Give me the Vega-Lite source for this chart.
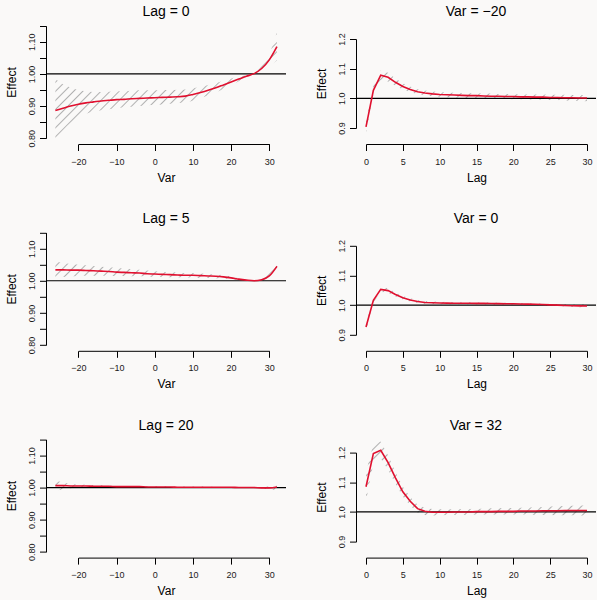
{
"$schema": "https://vega.github.io/schema/vega-lite/v6.json",
"background": "#faf9f8",
"padding": {"left": 5, "top": 5, "right": 0, "bottom": 3},
"columns": 2,
"spacing": {"row": 86.8, "column": 70},
"bounds": "flush",
"datasets": {
"lag0": [
{"x":-26,"fit":0.886,"lo":0.800,"hi":0.984},{"x":-24,"fit":0.893,"lo":0.825,"hi":0.968},{"x":-22,"fit":0.900,"lo":0.848,"hi":0.958},{"x":-20,"fit":0.906,"lo":0.866,"hi":0.950},{"x":-18,"fit":0.910,"lo":0.876,"hi":0.946},{"x":-16,"fit":0.913,"lo":0.882,"hi":0.944},{"x":-14,"fit":0.916,"lo":0.887,"hi":0.944},{"x":-12,"fit":0.918,"lo":0.890,"hi":0.945},{"x":-10,"fit":0.920,"lo":0.893,"hi":0.946},{"x":-8,"fit":0.921,"lo":0.896,"hi":0.947},{"x":-6,"fit":0.923,"lo":0.898,"hi":0.948},{"x":-4,"fit":0.924,"lo":0.900,"hi":0.949},{"x":-2,"fit":0.925,"lo":0.902,"hi":0.949},{"x":0,"fit":0.926,"lo":0.904,"hi":0.949},{"x":2,"fit":0.927,"lo":0.905,"hi":0.950},{"x":4,"fit":0.928,"lo":0.907,"hi":0.950},{"x":6,"fit":0.929,"lo":0.909,"hi":0.951},{"x":8,"fit":0.931,"lo":0.912,"hi":0.952},{"x":10,"fit":0.936,"lo":0.917,"hi":0.955},{"x":12,"fit":0.942,"lo":0.925,"hi":0.960},{"x":14,"fit":0.949,"lo":0.933,"hi":0.966},{"x":16,"fit":0.957,"lo":0.943,"hi":0.972},{"x":18,"fit":0.966,"lo":0.953,"hi":0.979},{"x":20,"fit":0.975,"lo":0.964,"hi":0.986},{"x":22,"fit":0.984,"lo":0.977,"hi":0.991},{"x":24,"fit":0.993,"lo":0.989,"hi":0.997},{"x":26,"fit":1.001,"lo":1.000,"hi":1.002},{"x":28,"fit":1.017,"lo":1.008,"hi":1.026},{"x":30,"fit":1.044,"lo":1.025,"hi":1.063},{"x":32,"fit":1.085,"lo":1.042,"hi":1.130}],
"varm20": [
{"x":0,"fit":0.904,"lo":0.884,"hi":0.925},{"x":1,"fit":1.027,"lo":1.012,"hi":1.042},{"x":2,"fit":1.078,"lo":1.062,"hi":1.094},{"x":3,"fit":1.071,"lo":1.057,"hi":1.086},{"x":4,"fit":1.054,"lo":1.042,"hi":1.067},{"x":5,"fit":1.040,"lo":1.030,"hi":1.051},{"x":6,"fit":1.030,"lo":1.021,"hi":1.040},{"x":7,"fit":1.022,"lo":1.014,"hi":1.031},{"x":8,"fit":1.018,"lo":1.010,"hi":1.026},{"x":9,"fit":1.015,"lo":1.007,"hi":1.023},{"x":10,"fit":1.013,"lo":1.005,"hi":1.021},{"x":11,"fit":1.012,"lo":1.004,"hi":1.020},{"x":12,"fit":1.011,"lo":1.003,"hi":1.019},{"x":13,"fit":1.010,"lo":1.002,"hi":1.018},{"x":14,"fit":1.009,"lo":1.001,"hi":1.017},{"x":15,"fit":1.009,"lo":1.000,"hi":1.017},{"x":16,"fit":1.008,"lo":1.000,"hi":1.016},{"x":17,"fit":1.007,"lo":0.999,"hi":1.016},{"x":18,"fit":1.007,"lo":0.998,"hi":1.015},{"x":19,"fit":1.006,"lo":0.998,"hi":1.015},{"x":20,"fit":1.006,"lo":0.997,"hi":1.014},{"x":21,"fit":1.005,"lo":0.997,"hi":1.014},{"x":22,"fit":1.005,"lo":0.996,"hi":1.013},{"x":23,"fit":1.004,"lo":0.996,"hi":1.013},{"x":24,"fit":1.004,"lo":0.995,"hi":1.013},{"x":25,"fit":1.003,"lo":0.994,"hi":1.012},{"x":26,"fit":1.003,"lo":0.994,"hi":1.012},{"x":27,"fit":1.002,"lo":0.993,"hi":1.012},{"x":28,"fit":1.002,"lo":0.992,"hi":1.011},{"x":29,"fit":1.001,"lo":0.991,"hi":1.011},{"x":30,"fit":1.001,"lo":0.990,"hi":1.011}],
"lag5": [
{"x":-26,"fit":1.034,"lo":1.010,"hi":1.060},{"x":-24,"fit":1.034,"lo":1.012,"hi":1.056},{"x":-22,"fit":1.033,"lo":1.014,"hi":1.052},{"x":-20,"fit":1.033,"lo":1.015,"hi":1.050},{"x":-18,"fit":1.032,"lo":1.016,"hi":1.048},{"x":-16,"fit":1.031,"lo":1.016,"hi":1.046},{"x":-14,"fit":1.030,"lo":1.016,"hi":1.044},{"x":-12,"fit":1.029,"lo":1.016,"hi":1.042},{"x":-10,"fit":1.027,"lo":1.015,"hi":1.040},{"x":-8,"fit":1.026,"lo":1.015,"hi":1.038},{"x":-6,"fit":1.025,"lo":1.014,"hi":1.036},{"x":-4,"fit":1.024,"lo":1.014,"hi":1.034},{"x":-2,"fit":1.022,"lo":1.013,"hi":1.032},{"x":0,"fit":1.021,"lo":1.012,"hi":1.030},{"x":2,"fit":1.020,"lo":1.012,"hi":1.028},{"x":4,"fit":1.019,"lo":1.011,"hi":1.027},{"x":6,"fit":1.018,"lo":1.011,"hi":1.025},{"x":8,"fit":1.017,"lo":1.010,"hi":1.024},{"x":10,"fit":1.017,"lo":1.010,"hi":1.024},{"x":12,"fit":1.016,"lo":1.009,"hi":1.023},{"x":14,"fit":1.015,"lo":1.009,"hi":1.021},{"x":16,"fit":1.014,"lo":1.008,"hi":1.020},{"x":18,"fit":1.012,"lo":1.007,"hi":1.017},{"x":20,"fit":1.009,"lo":1.005,"hi":1.013},{"x":22,"fit":1.005,"lo":1.002,"hi":1.008},{"x":24,"fit":1.002,"lo":1.000,"hi":1.003},{"x":26,"fit":1.000,"lo":0.999,"hi":1.001},{"x":28,"fit":1.003,"lo":0.999,"hi":1.007},{"x":30,"fit":1.015,"lo":1.006,"hi":1.024},{"x":32,"fit":1.045,"lo":1.030,"hi":1.060}],
"var0": [
{"x":0,"fit":0.926,"lo":0.912,"hi":0.940},{"x":1,"fit":1.016,"lo":1.008,"hi":1.024},{"x":2,"fit":1.053,"lo":1.045,"hi":1.062},{"x":3,"fit":1.049,"lo":1.041,"hi":1.057},{"x":4,"fit":1.036,"lo":1.029,"hi":1.043},{"x":5,"fit":1.025,"lo":1.019,"hi":1.031},{"x":6,"fit":1.017,"lo":1.012,"hi":1.023},{"x":7,"fit":1.012,"lo":1.007,"hi":1.017},{"x":8,"fit":1.009,"lo":1.005,"hi":1.014},{"x":9,"fit":1.008,"lo":1.004,"hi":1.012},{"x":10,"fit":1.007,"lo":1.003,"hi":1.011},{"x":11,"fit":1.0068,"lo":1.003,"hi":1.0105},{"x":12,"fit":1.0066,"lo":1.003,"hi":1.010},{"x":13,"fit":1.0064,"lo":1.003,"hi":1.010},{"x":14,"fit":1.0062,"lo":1.003,"hi":1.0095},{"x":15,"fit":1.006,"lo":1.003,"hi":1.009},{"x":16,"fit":1.0058,"lo":1.003,"hi":1.009},{"x":17,"fit":1.0055,"lo":1.0025,"hi":1.0085},{"x":18,"fit":1.0052,"lo":1.0022,"hi":1.0082},{"x":19,"fit":1.0048,"lo":1.002,"hi":1.0078},{"x":20,"fit":1.0045,"lo":1.0018,"hi":1.0074},{"x":21,"fit":1.004,"lo":1.0013,"hi":1.007},{"x":22,"fit":1.0035,"lo":1.0008,"hi":1.0063},{"x":23,"fit":1.003,"lo":1.0002,"hi":1.006},{"x":24,"fit":1.002,"lo":0.999,"hi":1.005},{"x":25,"fit":1.001,"lo":0.998,"hi":1.004},{"x":26,"fit":1.000,"lo":0.997,"hi":1.003},{"x":27,"fit":0.999,"lo":0.995,"hi":1.003},{"x":28,"fit":0.998,"lo":0.994,"hi":1.002},{"x":29,"fit":0.9975,"lo":0.993,"hi":1.002},{"x":30,"fit":0.997,"lo":0.991,"hi":1.003}],
"lag20": [
{"x":-26,"fit":1.006,"lo":0.990,"hi":1.021},{"x":-24,"fit":1.006,"lo":0.995,"hi":1.016},{"x":-22,"fit":1.005,"lo":0.998,"hi":1.012},{"x":-20,"fit":1.005,"lo":1.000,"hi":1.010},{"x":-18,"fit":1.005,"lo":1.001,"hi":1.009},{"x":-16,"fit":1.004,"lo":1.001,"hi":1.008},{"x":-14,"fit":1.004,"lo":1.001,"hi":1.007},{"x":-12,"fit":1.004,"lo":1.001,"hi":1.006},{"x":-10,"fit":1.003,"lo":1.001,"hi":1.006},{"x":-8,"fit":1.003,"lo":1.001,"hi":1.005},{"x":-6,"fit":1.003,"lo":1.001,"hi":1.005},{"x":-4,"fit":1.003,"lo":1.001,"hi":1.004},{"x":-2,"fit":1.002,"lo":1.001,"hi":1.004},{"x":0,"fit":1.002,"lo":1.000,"hi":1.004},{"x":2,"fit":1.002,"lo":1.000,"hi":1.004},{"x":4,"fit":1.002,"lo":1.000,"hi":1.003},{"x":6,"fit":1.001,"lo":0.999,"hi":1.003},{"x":8,"fit":1.001,"lo":0.999,"hi":1.003},{"x":10,"fit":1.001,"lo":0.999,"hi":1.003},{"x":12,"fit":1.001,"lo":0.999,"hi":1.003},{"x":14,"fit":1.001,"lo":0.999,"hi":1.003},{"x":16,"fit":1.001,"lo":0.999,"hi":1.002},{"x":18,"fit":1.001,"lo":1.000,"hi":1.002},{"x":20,"fit":1.001,"lo":1.000,"hi":1.002},{"x":22,"fit":1.000,"lo":0.999,"hi":1.001},{"x":24,"fit":1.000,"lo":1.000,"hi":1.000},{"x":26,"fit":1.000,"lo":1.000,"hi":1.000},{"x":28,"fit":0.999,"lo":0.997,"hi":1.001},{"x":30,"fit":0.999,"lo":0.994,"hi":1.004},{"x":32,"fit":1.002,"lo":0.993,"hi":1.011}],
"var32": [
{"x":0,"fit":1.085,"lo":1.035,"hi":1.135},{"x":1,"fit":1.197,"lo":1.165,"hi":1.228},{"x":2,"fit":1.208,"lo":1.180,"hi":1.237},{"x":3,"fit":1.166,"lo":1.142,"hi":1.190},{"x":4,"fit":1.115,"lo":1.095,"hi":1.135},{"x":5,"fit":1.068,"lo":1.052,"hi":1.085},{"x":6,"fit":1.036,"lo":1.022,"hi":1.050},{"x":7,"fit":1.011,"lo":0.998,"hi":1.024},{"x":8,"fit":1.002,"lo":0.990,"hi":1.014},{"x":9,"fit":0.999,"lo":0.988,"hi":1.010},{"x":10,"fit":0.999,"lo":0.989,"hi":1.009},{"x":11,"fit":0.999,"lo":0.990,"hi":1.009},{"x":12,"fit":1.000,"lo":0.990,"hi":1.009},{"x":13,"fit":1.000,"lo":0.990,"hi":1.010},{"x":14,"fit":1.000,"lo":0.990,"hi":1.010},{"x":15,"fit":1.001,"lo":0.991,"hi":1.011},{"x":16,"fit":1.001,"lo":0.991,"hi":1.011},{"x":17,"fit":1.001,"lo":0.991,"hi":1.012},{"x":18,"fit":1.002,"lo":0.991,"hi":1.012},{"x":19,"fit":1.002,"lo":0.991,"hi":1.013},{"x":20,"fit":1.002,"lo":0.991,"hi":1.013},{"x":21,"fit":1.003,"lo":0.991,"hi":1.014},{"x":22,"fit":1.003,"lo":0.991,"hi":1.015},{"x":23,"fit":1.003,"lo":0.990,"hi":1.016},{"x":24,"fit":1.004,"lo":0.990,"hi":1.017},{"x":25,"fit":1.004,"lo":0.990,"hi":1.018},{"x":26,"fit":1.004,"lo":0.989,"hi":1.019},{"x":27,"fit":1.005,"lo":0.989,"hi":1.020},{"x":28,"fit":1.005,"lo":0.989,"hi":1.021},{"x":29,"fit":1.005,"lo":0.988,"hi":1.022},{"x":30,"fit":1.005,"lo":0.988,"hi":1.022}]
},
"concat": [
{"title": "Lag = 0", "width": 240, "height": 120, "data": {"name": "lag0"},
 "layer": [
  {"mark": {"type": "area", "interpolate": "monotone", "fill": {"gradient": "linear", "x1": 0, "y1": 0, "x2": 1.203, "y2": 0.575, "stops": [
{"offset":0.0096,"color":"#b0b0b000"},{"offset":0.0139,"color":"#b0b0b0"},{"offset":0.0182,"color":"#b0b0b000"},
{"offset":0.0374,"color":"#b0b0b000"},{"offset":0.0417,"color":"#b0b0b0"},{"offset":0.0460,"color":"#b0b0b000"},
{"offset":0.0651,"color":"#b0b0b000"},{"offset":0.0694,"color":"#b0b0b0"},{"offset":0.0737,"color":"#b0b0b000"},
{"offset":0.0929,"color":"#b0b0b000"},{"offset":0.0972,"color":"#b0b0b0"},{"offset":0.1015,"color":"#b0b0b000"},
{"offset":0.1207,"color":"#b0b0b000"},{"offset":0.125,"color":"#b0b0b0"},{"offset":0.1293,"color":"#b0b0b000"},
{"offset":0.1485,"color":"#b0b0b000"},{"offset":0.1528,"color":"#b0b0b0"},{"offset":0.1571,"color":"#b0b0b000"},
{"offset":0.1763,"color":"#b0b0b000"},{"offset":0.1806,"color":"#b0b0b0"},{"offset":0.1849,"color":"#b0b0b000"},
{"offset":0.2040,"color":"#b0b0b000"},{"offset":0.2083,"color":"#b0b0b0"},{"offset":0.2126,"color":"#b0b0b000"},
{"offset":0.2318,"color":"#b0b0b000"},{"offset":0.2361,"color":"#b0b0b0"},{"offset":0.2404,"color":"#b0b0b000"},
{"offset":0.2596,"color":"#b0b0b000"},{"offset":0.2639,"color":"#b0b0b0"},{"offset":0.2682,"color":"#b0b0b000"},
{"offset":0.2874,"color":"#b0b0b000"},{"offset":0.2917,"color":"#b0b0b0"},{"offset":0.2960,"color":"#b0b0b000"},
{"offset":0.3151,"color":"#b0b0b000"},{"offset":0.3194,"color":"#b0b0b0"},{"offset":0.3237,"color":"#b0b0b000"},
{"offset":0.3429,"color":"#b0b0b000"},{"offset":0.3472,"color":"#b0b0b0"},{"offset":0.3515,"color":"#b0b0b000"},
{"offset":0.3707,"color":"#b0b0b000"},{"offset":0.375,"color":"#b0b0b0"},{"offset":0.3793,"color":"#b0b0b000"},
{"offset":0.3985,"color":"#b0b0b000"},{"offset":0.4028,"color":"#b0b0b0"},{"offset":0.4071,"color":"#b0b0b000"},
{"offset":0.4263,"color":"#b0b0b000"},{"offset":0.4306,"color":"#b0b0b0"},{"offset":0.4349,"color":"#b0b0b000"},
{"offset":0.4540,"color":"#b0b0b000"},{"offset":0.4583,"color":"#b0b0b0"},{"offset":0.4626,"color":"#b0b0b000"},
{"offset":0.4818,"color":"#b0b0b000"},{"offset":0.4861,"color":"#b0b0b0"},{"offset":0.4904,"color":"#b0b0b000"},
{"offset":0.5096,"color":"#b0b0b000"},{"offset":0.5139,"color":"#b0b0b0"},{"offset":0.5182,"color":"#b0b0b000"},
{"offset":0.5374,"color":"#b0b0b000"},{"offset":0.5417,"color":"#b0b0b0"},{"offset":0.5460,"color":"#b0b0b000"},
{"offset":0.5651,"color":"#b0b0b000"},{"offset":0.5694,"color":"#b0b0b0"},{"offset":0.5737,"color":"#b0b0b000"},
{"offset":0.5929,"color":"#b0b0b000"},{"offset":0.5972,"color":"#b0b0b0"},{"offset":0.6015,"color":"#b0b0b000"},
{"offset":0.6207,"color":"#b0b0b000"},{"offset":0.625,"color":"#b0b0b0"},{"offset":0.6293,"color":"#b0b0b000"},
{"offset":0.6485,"color":"#b0b0b000"},{"offset":0.6528,"color":"#b0b0b0"},{"offset":0.6571,"color":"#b0b0b000"},
{"offset":0.6763,"color":"#b0b0b000"},{"offset":0.6806,"color":"#b0b0b0"},{"offset":0.6849,"color":"#b0b0b000"},
{"offset":0.7040,"color":"#b0b0b000"},{"offset":0.7083,"color":"#b0b0b0"},{"offset":0.7126,"color":"#b0b0b000"},
{"offset":0.7318,"color":"#b0b0b000"},{"offset":0.7361,"color":"#b0b0b0"},{"offset":0.7404,"color":"#b0b0b000"},
{"offset":0.7596,"color":"#b0b0b000"},{"offset":0.7639,"color":"#b0b0b0"},{"offset":0.7682,"color":"#b0b0b000"},
{"offset":0.7874,"color":"#b0b0b000"},{"offset":0.7917,"color":"#b0b0b0"},{"offset":0.7960,"color":"#b0b0b000"},
{"offset":0.8151,"color":"#b0b0b000"},{"offset":0.8194,"color":"#b0b0b0"},{"offset":0.8237,"color":"#b0b0b000"},
{"offset":0.8429,"color":"#b0b0b000"},{"offset":0.8472,"color":"#b0b0b0"},{"offset":0.8515,"color":"#b0b0b000"},
{"offset":0.8707,"color":"#b0b0b000"},{"offset":0.875,"color":"#b0b0b0"},{"offset":0.8793,"color":"#b0b0b000"},
{"offset":0.8985,"color":"#b0b0b000"},{"offset":0.9028,"color":"#b0b0b0"},{"offset":0.9071,"color":"#b0b0b000"},
{"offset":0.9263,"color":"#b0b0b000"},{"offset":0.9306,"color":"#b0b0b0"},{"offset":0.9349,"color":"#b0b0b000"},
{"offset":0.9540,"color":"#b0b0b000"},{"offset":0.9583,"color":"#b0b0b0"},{"offset":0.9626,"color":"#b0b0b000"},
{"offset":0.9818,"color":"#b0b0b000"},{"offset":0.9861,"color":"#b0b0b0"},{"offset":0.9904,"color":"#b0b0b000"}]}},
   "encoding": {
    "x": {"field": "x", "type": "quantitative", "title": "Var", "scale": {"domain": [-20, 30], "range": [32.3, 223.3], "nice": false, "zero": false}, "axis": {"values": [-20, -10, 0, 10, 20, 30], "titleX": 120}},
    "y": {"field": "lo", "type": "quantitative", "title": "Effect", "scale": {"domain": [0.8, 1.15], "range": [114.2, 1.8], "nice": false, "zero": false}, "axis": {"values": [0.8, 0.85, 0.9, 0.95, 1, 1.05, 1.1, 1.15], "labelExpr": "round(datum.value*100) % 10 == 0 ? format(datum.value, '.2f') : ''"}},
    "y2": {"field": "hi"}}},
  {"data": {"values": [{"ref": 1}]}, "mark": {"type": "rule", "color": "#000000", "strokeWidth": 1.2},
   "encoding": {"y": {"field": "ref", "type": "quantitative", "title": "Effect", "scale": {"domain": [0.8, 1.15], "range": [114.2, 1.8], "nice": false, "zero": false}, "axis": {"values": [0.8, 0.85, 0.9, 0.95, 1, 1.05, 1.1, 1.15], "labelExpr": "round(datum.value*100) % 10 == 0 ? format(datum.value, '.2f') : ''"}}}},
  {"mark": {"type": "line", "interpolate": "monotone", "color": "#e0102f", "strokeWidth": 1.6},
   "encoding": {
    "x": {"field": "x", "type": "quantitative", "title": "Var", "scale": {"domain": [-20, 30], "range": [32.3, 223.3], "nice": false, "zero": false}, "axis": {"values": [-20, -10, 0, 10, 20, 30], "titleX": 120}},
    "y": {"field": "fit", "type": "quantitative", "title": "Effect", "scale": {"domain": [0.8, 1.15], "range": [114.2, 1.8], "nice": false, "zero": false}, "axis": {"values": [0.8, 0.85, 0.9, 0.95, 1, 1.05, 1.1, 1.15], "labelExpr": "round(datum.value*100) % 10 == 0 ? format(datum.value, '.2f') : ''"}}}}
 ]},
{"title": "Var = \u221220", "width": 240, "height": 120, "data": {"name": "varm20"},
 "layer": [
  {"mark": {"type": "area", "fill": {"gradient": "linear", "x1": 0, "y1": 0, "x2": 1.188, "y2": 0.3375, "stops": [
{"offset":0.0117,"color":"#b0b0b000"},{"offset":0.0167,"color":"#b0b0b0"},{"offset":0.0217,"color":"#b0b0b000"},
{"offset":0.045,"color":"#b0b0b000"},{"offset":0.05,"color":"#b0b0b0"},{"offset":0.055,"color":"#b0b0b000"},
{"offset":0.0783,"color":"#b0b0b000"},{"offset":0.0833,"color":"#b0b0b0"},{"offset":0.0883,"color":"#b0b0b000"},
{"offset":0.1117,"color":"#b0b0b000"},{"offset":0.1167,"color":"#b0b0b0"},{"offset":0.1217,"color":"#b0b0b000"},
{"offset":0.145,"color":"#b0b0b000"},{"offset":0.15,"color":"#b0b0b0"},{"offset":0.155,"color":"#b0b0b000"},
{"offset":0.1783,"color":"#b0b0b000"},{"offset":0.1833,"color":"#b0b0b0"},{"offset":0.1883,"color":"#b0b0b000"},
{"offset":0.2117,"color":"#b0b0b000"},{"offset":0.2167,"color":"#b0b0b0"},{"offset":0.2217,"color":"#b0b0b000"},
{"offset":0.245,"color":"#b0b0b000"},{"offset":0.25,"color":"#b0b0b0"},{"offset":0.255,"color":"#b0b0b000"},
{"offset":0.2783,"color":"#b0b0b000"},{"offset":0.2833,"color":"#b0b0b0"},{"offset":0.2883,"color":"#b0b0b000"},
{"offset":0.3117,"color":"#b0b0b000"},{"offset":0.3167,"color":"#b0b0b0"},{"offset":0.3217,"color":"#b0b0b000"},
{"offset":0.345,"color":"#b0b0b000"},{"offset":0.35,"color":"#b0b0b0"},{"offset":0.355,"color":"#b0b0b000"},
{"offset":0.3783,"color":"#b0b0b000"},{"offset":0.3833,"color":"#b0b0b0"},{"offset":0.3883,"color":"#b0b0b000"},
{"offset":0.4117,"color":"#b0b0b000"},{"offset":0.4167,"color":"#b0b0b0"},{"offset":0.4217,"color":"#b0b0b000"},
{"offset":0.445,"color":"#b0b0b000"},{"offset":0.45,"color":"#b0b0b0"},{"offset":0.455,"color":"#b0b0b000"},
{"offset":0.4783,"color":"#b0b0b000"},{"offset":0.4833,"color":"#b0b0b0"},{"offset":0.4883,"color":"#b0b0b000"},
{"offset":0.5117,"color":"#b0b0b000"},{"offset":0.5167,"color":"#b0b0b0"},{"offset":0.5217,"color":"#b0b0b000"},
{"offset":0.545,"color":"#b0b0b000"},{"offset":0.55,"color":"#b0b0b0"},{"offset":0.555,"color":"#b0b0b000"},
{"offset":0.5783,"color":"#b0b0b000"},{"offset":0.5833,"color":"#b0b0b0"},{"offset":0.5883,"color":"#b0b0b000"},
{"offset":0.6117,"color":"#b0b0b000"},{"offset":0.6167,"color":"#b0b0b0"},{"offset":0.6217,"color":"#b0b0b000"},
{"offset":0.645,"color":"#b0b0b000"},{"offset":0.65,"color":"#b0b0b0"},{"offset":0.655,"color":"#b0b0b000"},
{"offset":0.6783,"color":"#b0b0b000"},{"offset":0.6833,"color":"#b0b0b0"},{"offset":0.6883,"color":"#b0b0b000"},
{"offset":0.7117,"color":"#b0b0b000"},{"offset":0.7167,"color":"#b0b0b0"},{"offset":0.7217,"color":"#b0b0b000"},
{"offset":0.745,"color":"#b0b0b000"},{"offset":0.75,"color":"#b0b0b0"},{"offset":0.755,"color":"#b0b0b000"},
{"offset":0.7783,"color":"#b0b0b000"},{"offset":0.7833,"color":"#b0b0b0"},{"offset":0.7883,"color":"#b0b0b000"},
{"offset":0.8117,"color":"#b0b0b000"},{"offset":0.8167,"color":"#b0b0b0"},{"offset":0.8217,"color":"#b0b0b000"},
{"offset":0.845,"color":"#b0b0b000"},{"offset":0.85,"color":"#b0b0b0"},{"offset":0.855,"color":"#b0b0b000"},
{"offset":0.8783,"color":"#b0b0b000"},{"offset":0.8833,"color":"#b0b0b0"},{"offset":0.8883,"color":"#b0b0b000"},
{"offset":0.9117,"color":"#b0b0b000"},{"offset":0.9167,"color":"#b0b0b0"},{"offset":0.9217,"color":"#b0b0b000"},
{"offset":0.945,"color":"#b0b0b000"},{"offset":0.95,"color":"#b0b0b0"},{"offset":0.955,"color":"#b0b0b000"},
{"offset":0.9783,"color":"#b0b0b000"},{"offset":0.9833,"color":"#b0b0b0"},{"offset":0.9883,"color":"#b0b0b000"}]}},
   "encoding": {
    "x": {"field": "x", "type": "quantitative", "title": "Lag", "scale": {"domain": [0, 30], "range": [10, 231], "nice": false, "zero": false}, "axis": {"values": [0, 5, 10, 15, 20, 25, 30]}},
    "y": {"field": "lo", "type": "quantitative", "title": "Effect", "scale": {"domain": [0.9, 1.2], "range": [104, 15], "nice": false, "zero": false}, "axis": {"values": [0.9, 1, 1.1, 1.2], "format": ".1f"}},
    "y2": {"field": "hi"}}},
  {"data": {"values": [{"ref": 1}]}, "mark": {"type": "rule", "color": "#000000", "strokeWidth": 1.2},
   "encoding": {"y": {"field": "ref", "type": "quantitative", "title": "Effect", "scale": {"domain": [0.9, 1.2], "range": [104, 15], "nice": false, "zero": false}, "axis": {"values": [0.9, 1, 1.1, 1.2], "format": ".1f"}}}},
  {"mark": {"type": "line", "color": "#e0102f", "strokeWidth": 1.6},
   "encoding": {
    "x": {"field": "x", "type": "quantitative", "title": "Lag", "scale": {"domain": [0, 30], "range": [10, 231], "nice": false, "zero": false}, "axis": {"values": [0, 5, 10, 15, 20, 25, 30]}},
    "y": {"field": "fit", "type": "quantitative", "title": "Effect", "scale": {"domain": [0.9, 1.2], "range": [104, 15], "nice": false, "zero": false}, "axis": {"values": [0.9, 1, 1.1, 1.2], "format": ".1f"}}}}
 ]},
{"title": "Lag = 5", "width": 240, "height": 120, "data": {"name": "lag5"},
 "layer": [
  {"mark": {"type": "area", "interpolate": "monotone", "fill": {"gradient": "linear", "x1": 0, "y1": 0, "x2": 1.080, "y2": 0.0955, "stops": [
{"offset":0.014,"color":"#b0b0b000"},{"offset":0.02,"color":"#b0b0b0"},{"offset":0.026,"color":"#b0b0b000"},
{"offset":0.054,"color":"#b0b0b000"},{"offset":0.06,"color":"#b0b0b0"},{"offset":0.066,"color":"#b0b0b000"},
{"offset":0.094,"color":"#b0b0b000"},{"offset":0.10,"color":"#b0b0b0"},{"offset":0.106,"color":"#b0b0b000"},
{"offset":0.134,"color":"#b0b0b000"},{"offset":0.14,"color":"#b0b0b0"},{"offset":0.146,"color":"#b0b0b000"},
{"offset":0.174,"color":"#b0b0b000"},{"offset":0.18,"color":"#b0b0b0"},{"offset":0.186,"color":"#b0b0b000"},
{"offset":0.214,"color":"#b0b0b000"},{"offset":0.22,"color":"#b0b0b0"},{"offset":0.226,"color":"#b0b0b000"},
{"offset":0.254,"color":"#b0b0b000"},{"offset":0.26,"color":"#b0b0b0"},{"offset":0.266,"color":"#b0b0b000"},
{"offset":0.294,"color":"#b0b0b000"},{"offset":0.30,"color":"#b0b0b0"},{"offset":0.306,"color":"#b0b0b000"},
{"offset":0.334,"color":"#b0b0b000"},{"offset":0.34,"color":"#b0b0b0"},{"offset":0.346,"color":"#b0b0b000"},
{"offset":0.374,"color":"#b0b0b000"},{"offset":0.38,"color":"#b0b0b0"},{"offset":0.386,"color":"#b0b0b000"},
{"offset":0.414,"color":"#b0b0b000"},{"offset":0.42,"color":"#b0b0b0"},{"offset":0.426,"color":"#b0b0b000"},
{"offset":0.454,"color":"#b0b0b000"},{"offset":0.46,"color":"#b0b0b0"},{"offset":0.466,"color":"#b0b0b000"},
{"offset":0.494,"color":"#b0b0b000"},{"offset":0.50,"color":"#b0b0b0"},{"offset":0.506,"color":"#b0b0b000"},
{"offset":0.534,"color":"#b0b0b000"},{"offset":0.54,"color":"#b0b0b0"},{"offset":0.546,"color":"#b0b0b000"},
{"offset":0.574,"color":"#b0b0b000"},{"offset":0.58,"color":"#b0b0b0"},{"offset":0.586,"color":"#b0b0b000"},
{"offset":0.614,"color":"#b0b0b000"},{"offset":0.62,"color":"#b0b0b0"},{"offset":0.626,"color":"#b0b0b000"},
{"offset":0.654,"color":"#b0b0b000"},{"offset":0.66,"color":"#b0b0b0"},{"offset":0.666,"color":"#b0b0b000"},
{"offset":0.694,"color":"#b0b0b000"},{"offset":0.70,"color":"#b0b0b0"},{"offset":0.706,"color":"#b0b0b000"},
{"offset":0.734,"color":"#b0b0b000"},{"offset":0.74,"color":"#b0b0b0"},{"offset":0.746,"color":"#b0b0b000"},
{"offset":0.774,"color":"#b0b0b000"},{"offset":0.78,"color":"#b0b0b0"},{"offset":0.786,"color":"#b0b0b000"},
{"offset":0.814,"color":"#b0b0b000"},{"offset":0.82,"color":"#b0b0b0"},{"offset":0.826,"color":"#b0b0b000"},
{"offset":0.854,"color":"#b0b0b000"},{"offset":0.86,"color":"#b0b0b0"},{"offset":0.866,"color":"#b0b0b000"},
{"offset":0.894,"color":"#b0b0b000"},{"offset":0.90,"color":"#b0b0b0"},{"offset":0.906,"color":"#b0b0b000"},
{"offset":0.934,"color":"#b0b0b000"},{"offset":0.94,"color":"#b0b0b0"},{"offset":0.946,"color":"#b0b0b000"},
{"offset":0.974,"color":"#b0b0b000"},{"offset":0.98,"color":"#b0b0b0"},{"offset":0.986,"color":"#b0b0b000"}]}},
   "encoding": {
    "x": {"field": "x", "type": "quantitative", "title": "Var", "scale": {"domain": [-20, 30], "range": [32.3, 223.3], "nice": false, "zero": false}, "axis": {"values": [-20, -10, 0, 10, 20, 30], "titleX": 120}},
    "y": {"field": "lo", "type": "quantitative", "title": "Effect", "scale": {"domain": [0.8, 1.15], "range": [114.2, 1.8], "nice": false, "zero": false}, "axis": {"values": [0.8, 0.85, 0.9, 0.95, 1, 1.05, 1.1, 1.15], "labelExpr": "round(datum.value*100) % 10 == 0 ? format(datum.value, '.2f') : ''"}},
    "y2": {"field": "hi"}}},
  {"data": {"values": [{"ref": 1}]}, "mark": {"type": "rule", "color": "#000000", "strokeWidth": 1.2},
   "encoding": {"y": {"field": "ref", "type": "quantitative", "title": "Effect", "scale": {"domain": [0.8, 1.15], "range": [114.2, 1.8], "nice": false, "zero": false}, "axis": {"values": [0.8, 0.85, 0.9, 0.95, 1, 1.05, 1.1, 1.15], "labelExpr": "round(datum.value*100) % 10 == 0 ? format(datum.value, '.2f') : ''"}}}},
  {"mark": {"type": "line", "interpolate": "monotone", "color": "#e0102f", "strokeWidth": 1.6},
   "encoding": {
    "x": {"field": "x", "type": "quantitative", "title": "Var", "scale": {"domain": [-20, 30], "range": [32.3, 223.3], "nice": false, "zero": false}, "axis": {"values": [-20, -10, 0, 10, 20, 30], "titleX": 120}},
    "y": {"field": "fit", "type": "quantitative", "title": "Effect", "scale": {"domain": [0.8, 1.15], "range": [114.2, 1.8], "nice": false, "zero": false}, "axis": {"values": [0.8, 0.85, 0.9, 0.95, 1, 1.05, 1.1, 1.15], "labelExpr": "round(datum.value*100) % 10 == 0 ? format(datum.value, '.2f') : ''"}}}}
 ]},
{"title": "Var = 0", "width": 240, "height": 120, "data": {"name": "var0"},
 "layer": [
  {"mark": {"type": "area", "fill": {"gradient": "linear", "x1": 0, "y1": 0, "x2": 1.1554, "y2": 0.2346, "stops": [
{"offset":0.0117,"color":"#b0b0b000"},{"offset":0.0167,"color":"#b0b0b0"},{"offset":0.0217,"color":"#b0b0b000"},
{"offset":0.045,"color":"#b0b0b000"},{"offset":0.05,"color":"#b0b0b0"},{"offset":0.055,"color":"#b0b0b000"},
{"offset":0.0783,"color":"#b0b0b000"},{"offset":0.0833,"color":"#b0b0b0"},{"offset":0.0883,"color":"#b0b0b000"},
{"offset":0.1117,"color":"#b0b0b000"},{"offset":0.1167,"color":"#b0b0b0"},{"offset":0.1217,"color":"#b0b0b000"},
{"offset":0.145,"color":"#b0b0b000"},{"offset":0.15,"color":"#b0b0b0"},{"offset":0.155,"color":"#b0b0b000"},
{"offset":0.1783,"color":"#b0b0b000"},{"offset":0.1833,"color":"#b0b0b0"},{"offset":0.1883,"color":"#b0b0b000"},
{"offset":0.2117,"color":"#b0b0b000"},{"offset":0.2167,"color":"#b0b0b0"},{"offset":0.2217,"color":"#b0b0b000"},
{"offset":0.245,"color":"#b0b0b000"},{"offset":0.25,"color":"#b0b0b0"},{"offset":0.255,"color":"#b0b0b000"},
{"offset":0.2783,"color":"#b0b0b000"},{"offset":0.2833,"color":"#b0b0b0"},{"offset":0.2883,"color":"#b0b0b000"},
{"offset":0.3117,"color":"#b0b0b000"},{"offset":0.3167,"color":"#b0b0b0"},{"offset":0.3217,"color":"#b0b0b000"},
{"offset":0.345,"color":"#b0b0b000"},{"offset":0.35,"color":"#b0b0b0"},{"offset":0.355,"color":"#b0b0b000"},
{"offset":0.3783,"color":"#b0b0b000"},{"offset":0.3833,"color":"#b0b0b0"},{"offset":0.3883,"color":"#b0b0b000"},
{"offset":0.4117,"color":"#b0b0b000"},{"offset":0.4167,"color":"#b0b0b0"},{"offset":0.4217,"color":"#b0b0b000"},
{"offset":0.445,"color":"#b0b0b000"},{"offset":0.45,"color":"#b0b0b0"},{"offset":0.455,"color":"#b0b0b000"},
{"offset":0.4783,"color":"#b0b0b000"},{"offset":0.4833,"color":"#b0b0b0"},{"offset":0.4883,"color":"#b0b0b000"},
{"offset":0.5117,"color":"#b0b0b000"},{"offset":0.5167,"color":"#b0b0b0"},{"offset":0.5217,"color":"#b0b0b000"},
{"offset":0.545,"color":"#b0b0b000"},{"offset":0.55,"color":"#b0b0b0"},{"offset":0.555,"color":"#b0b0b000"},
{"offset":0.5783,"color":"#b0b0b000"},{"offset":0.5833,"color":"#b0b0b0"},{"offset":0.5883,"color":"#b0b0b000"},
{"offset":0.6117,"color":"#b0b0b000"},{"offset":0.6167,"color":"#b0b0b0"},{"offset":0.6217,"color":"#b0b0b000"},
{"offset":0.645,"color":"#b0b0b000"},{"offset":0.65,"color":"#b0b0b0"},{"offset":0.655,"color":"#b0b0b000"},
{"offset":0.6783,"color":"#b0b0b000"},{"offset":0.6833,"color":"#b0b0b0"},{"offset":0.6883,"color":"#b0b0b000"},
{"offset":0.7117,"color":"#b0b0b000"},{"offset":0.7167,"color":"#b0b0b0"},{"offset":0.7217,"color":"#b0b0b000"},
{"offset":0.745,"color":"#b0b0b000"},{"offset":0.75,"color":"#b0b0b0"},{"offset":0.755,"color":"#b0b0b000"},
{"offset":0.7783,"color":"#b0b0b000"},{"offset":0.7833,"color":"#b0b0b0"},{"offset":0.7883,"color":"#b0b0b000"},
{"offset":0.8117,"color":"#b0b0b000"},{"offset":0.8167,"color":"#b0b0b0"},{"offset":0.8217,"color":"#b0b0b000"},
{"offset":0.845,"color":"#b0b0b000"},{"offset":0.85,"color":"#b0b0b0"},{"offset":0.855,"color":"#b0b0b000"},
{"offset":0.8783,"color":"#b0b0b000"},{"offset":0.8833,"color":"#b0b0b0"},{"offset":0.8883,"color":"#b0b0b000"},
{"offset":0.9117,"color":"#b0b0b000"},{"offset":0.9167,"color":"#b0b0b0"},{"offset":0.9217,"color":"#b0b0b000"},
{"offset":0.945,"color":"#b0b0b000"},{"offset":0.95,"color":"#b0b0b0"},{"offset":0.955,"color":"#b0b0b000"},
{"offset":0.9783,"color":"#b0b0b000"},{"offset":0.9833,"color":"#b0b0b0"},{"offset":0.9883,"color":"#b0b0b000"}]}},
   "encoding": {
    "x": {"field": "x", "type": "quantitative", "title": "Lag", "scale": {"domain": [0, 30], "range": [10, 231], "nice": false, "zero": false}, "axis": {"values": [0, 5, 10, 15, 20, 25, 30]}},
    "y": {"field": "lo", "type": "quantitative", "title": "Effect", "scale": {"domain": [0.9, 1.2], "range": [104, 15], "nice": false, "zero": false}, "axis": {"values": [0.9, 1, 1.1, 1.2], "format": ".1f"}},
    "y2": {"field": "hi"}}},
  {"data": {"values": [{"ref": 1}]}, "mark": {"type": "rule", "color": "#000000", "strokeWidth": 1.2},
   "encoding": {"y": {"field": "ref", "type": "quantitative", "title": "Effect", "scale": {"domain": [0.9, 1.2], "range": [104, 15], "nice": false, "zero": false}, "axis": {"values": [0.9, 1, 1.1, 1.2], "format": ".1f"}}}},
  {"mark": {"type": "line", "color": "#e0102f", "strokeWidth": 1.6},
   "encoding": {
    "x": {"field": "x", "type": "quantitative", "title": "Lag", "scale": {"domain": [0, 30], "range": [10, 231], "nice": false, "zero": false}, "axis": {"values": [0, 5, 10, 15, 20, 25, 30]}},
    "y": {"field": "fit", "type": "quantitative", "title": "Effect", "scale": {"domain": [0.9, 1.2], "range": [104, 15], "nice": false, "zero": false}, "axis": {"values": [0.9, 1, 1.1, 1.2], "format": ".1f"}}}}
 ]},
{"title": "Lag = 20", "width": 240, "height": 120, "data": {"name": "lag20"},
 "layer": [
  {"mark": {"type": "area", "interpolate": "monotone", "fill": {"gradient": "linear", "x1": 0, "y1": 0, "x2": 1.043, "y2": 0.0471, "stops": [
{"offset":0.014,"color":"#b0b0b000"},{"offset":0.02,"color":"#b0b0b0"},{"offset":0.026,"color":"#b0b0b000"},
{"offset":0.054,"color":"#b0b0b000"},{"offset":0.06,"color":"#b0b0b0"},{"offset":0.066,"color":"#b0b0b000"},
{"offset":0.094,"color":"#b0b0b000"},{"offset":0.10,"color":"#b0b0b0"},{"offset":0.106,"color":"#b0b0b000"},
{"offset":0.134,"color":"#b0b0b000"},{"offset":0.14,"color":"#b0b0b0"},{"offset":0.146,"color":"#b0b0b000"},
{"offset":0.174,"color":"#b0b0b000"},{"offset":0.18,"color":"#b0b0b0"},{"offset":0.186,"color":"#b0b0b000"},
{"offset":0.214,"color":"#b0b0b000"},{"offset":0.22,"color":"#b0b0b0"},{"offset":0.226,"color":"#b0b0b000"},
{"offset":0.254,"color":"#b0b0b000"},{"offset":0.26,"color":"#b0b0b0"},{"offset":0.266,"color":"#b0b0b000"},
{"offset":0.294,"color":"#b0b0b000"},{"offset":0.30,"color":"#b0b0b0"},{"offset":0.306,"color":"#b0b0b000"},
{"offset":0.334,"color":"#b0b0b000"},{"offset":0.34,"color":"#b0b0b0"},{"offset":0.346,"color":"#b0b0b000"},
{"offset":0.374,"color":"#b0b0b000"},{"offset":0.38,"color":"#b0b0b0"},{"offset":0.386,"color":"#b0b0b000"},
{"offset":0.414,"color":"#b0b0b000"},{"offset":0.42,"color":"#b0b0b0"},{"offset":0.426,"color":"#b0b0b000"},
{"offset":0.454,"color":"#b0b0b000"},{"offset":0.46,"color":"#b0b0b0"},{"offset":0.466,"color":"#b0b0b000"},
{"offset":0.494,"color":"#b0b0b000"},{"offset":0.50,"color":"#b0b0b0"},{"offset":0.506,"color":"#b0b0b000"},
{"offset":0.534,"color":"#b0b0b000"},{"offset":0.54,"color":"#b0b0b0"},{"offset":0.546,"color":"#b0b0b000"},
{"offset":0.574,"color":"#b0b0b000"},{"offset":0.58,"color":"#b0b0b0"},{"offset":0.586,"color":"#b0b0b000"},
{"offset":0.614,"color":"#b0b0b000"},{"offset":0.62,"color":"#b0b0b0"},{"offset":0.626,"color":"#b0b0b000"},
{"offset":0.654,"color":"#b0b0b000"},{"offset":0.66,"color":"#b0b0b0"},{"offset":0.666,"color":"#b0b0b000"},
{"offset":0.694,"color":"#b0b0b000"},{"offset":0.70,"color":"#b0b0b0"},{"offset":0.706,"color":"#b0b0b000"},
{"offset":0.734,"color":"#b0b0b000"},{"offset":0.74,"color":"#b0b0b0"},{"offset":0.746,"color":"#b0b0b000"},
{"offset":0.774,"color":"#b0b0b000"},{"offset":0.78,"color":"#b0b0b0"},{"offset":0.786,"color":"#b0b0b000"},
{"offset":0.814,"color":"#b0b0b000"},{"offset":0.82,"color":"#b0b0b0"},{"offset":0.826,"color":"#b0b0b000"},
{"offset":0.854,"color":"#b0b0b000"},{"offset":0.86,"color":"#b0b0b0"},{"offset":0.866,"color":"#b0b0b000"},
{"offset":0.894,"color":"#b0b0b000"},{"offset":0.90,"color":"#b0b0b0"},{"offset":0.906,"color":"#b0b0b000"},
{"offset":0.934,"color":"#b0b0b000"},{"offset":0.94,"color":"#b0b0b0"},{"offset":0.946,"color":"#b0b0b000"},
{"offset":0.974,"color":"#b0b0b000"},{"offset":0.98,"color":"#b0b0b0"},{"offset":0.986,"color":"#b0b0b000"}]}},
   "encoding": {
    "x": {"field": "x", "type": "quantitative", "title": "Var", "scale": {"domain": [-20, 30], "range": [32.3, 223.3], "nice": false, "zero": false}, "axis": {"values": [-20, -10, 0, 10, 20, 30], "titleX": 120}},
    "y": {"field": "lo", "type": "quantitative", "title": "Effect", "scale": {"domain": [0.8, 1.15], "range": [114.2, 1.8], "nice": false, "zero": false}, "axis": {"values": [0.8, 0.85, 0.9, 0.95, 1, 1.05, 1.1, 1.15], "labelExpr": "round(datum.value*100) % 10 == 0 ? format(datum.value, '.2f') : ''"}},
    "y2": {"field": "hi"}}},
  {"data": {"values": [{"ref": 1}]}, "mark": {"type": "rule", "color": "#000000", "strokeWidth": 1.2},
   "encoding": {"y": {"field": "ref", "type": "quantitative", "title": "Effect", "scale": {"domain": [0.8, 1.15], "range": [114.2, 1.8], "nice": false, "zero": false}, "axis": {"values": [0.8, 0.85, 0.9, 0.95, 1, 1.05, 1.1, 1.15], "labelExpr": "round(datum.value*100) % 10 == 0 ? format(datum.value, '.2f') : ''"}}}},
  {"mark": {"type": "line", "interpolate": "monotone", "color": "#e0102f", "strokeWidth": 1.6},
   "encoding": {
    "x": {"field": "x", "type": "quantitative", "title": "Var", "scale": {"domain": [-20, 30], "range": [32.3, 223.3], "nice": false, "zero": false}, "axis": {"values": [-20, -10, 0, 10, 20, 30], "titleX": 120}},
    "y": {"field": "fit", "type": "quantitative", "title": "Effect", "scale": {"domain": [0.8, 1.15], "range": [114.2, 1.8], "nice": false, "zero": false}, "axis": {"values": [0.8, 0.85, 0.9, 0.95, 1, 1.05, 1.1, 1.15], "labelExpr": "round(datum.value*100) % 10 == 0 ? format(datum.value, '.2f') : ''"}}}}
 ]},
{"title": "Var = 32", "width": 240, "height": 120, "data": {"name": "var32"},
 "layer": [
  {"mark": {"type": "area", "fill": {"gradient": "linear", "x1": 0, "y1": 0, "x2": 1.2006, "y2": 0.4046, "stops": [
{"offset":0.0117,"color":"#b0b0b000"},{"offset":0.0167,"color":"#b0b0b0"},{"offset":0.0217,"color":"#b0b0b000"},
{"offset":0.045,"color":"#b0b0b000"},{"offset":0.05,"color":"#b0b0b0"},{"offset":0.055,"color":"#b0b0b000"},
{"offset":0.0783,"color":"#b0b0b000"},{"offset":0.0833,"color":"#b0b0b0"},{"offset":0.0883,"color":"#b0b0b000"},
{"offset":0.1117,"color":"#b0b0b000"},{"offset":0.1167,"color":"#b0b0b0"},{"offset":0.1217,"color":"#b0b0b000"},
{"offset":0.145,"color":"#b0b0b000"},{"offset":0.15,"color":"#b0b0b0"},{"offset":0.155,"color":"#b0b0b000"},
{"offset":0.1783,"color":"#b0b0b000"},{"offset":0.1833,"color":"#b0b0b0"},{"offset":0.1883,"color":"#b0b0b000"},
{"offset":0.2117,"color":"#b0b0b000"},{"offset":0.2167,"color":"#b0b0b0"},{"offset":0.2217,"color":"#b0b0b000"},
{"offset":0.245,"color":"#b0b0b000"},{"offset":0.25,"color":"#b0b0b0"},{"offset":0.255,"color":"#b0b0b000"},
{"offset":0.2783,"color":"#b0b0b000"},{"offset":0.2833,"color":"#b0b0b0"},{"offset":0.2883,"color":"#b0b0b000"},
{"offset":0.3117,"color":"#b0b0b000"},{"offset":0.3167,"color":"#b0b0b0"},{"offset":0.3217,"color":"#b0b0b000"},
{"offset":0.345,"color":"#b0b0b000"},{"offset":0.35,"color":"#b0b0b0"},{"offset":0.355,"color":"#b0b0b000"},
{"offset":0.3783,"color":"#b0b0b000"},{"offset":0.3833,"color":"#b0b0b0"},{"offset":0.3883,"color":"#b0b0b000"},
{"offset":0.4117,"color":"#b0b0b000"},{"offset":0.4167,"color":"#b0b0b0"},{"offset":0.4217,"color":"#b0b0b000"},
{"offset":0.445,"color":"#b0b0b000"},{"offset":0.45,"color":"#b0b0b0"},{"offset":0.455,"color":"#b0b0b000"},
{"offset":0.4783,"color":"#b0b0b000"},{"offset":0.4833,"color":"#b0b0b0"},{"offset":0.4883,"color":"#b0b0b000"},
{"offset":0.5117,"color":"#b0b0b000"},{"offset":0.5167,"color":"#b0b0b0"},{"offset":0.5217,"color":"#b0b0b000"},
{"offset":0.545,"color":"#b0b0b000"},{"offset":0.55,"color":"#b0b0b0"},{"offset":0.555,"color":"#b0b0b000"},
{"offset":0.5783,"color":"#b0b0b000"},{"offset":0.5833,"color":"#b0b0b0"},{"offset":0.5883,"color":"#b0b0b000"},
{"offset":0.6117,"color":"#b0b0b000"},{"offset":0.6167,"color":"#b0b0b0"},{"offset":0.6217,"color":"#b0b0b000"},
{"offset":0.645,"color":"#b0b0b000"},{"offset":0.65,"color":"#b0b0b0"},{"offset":0.655,"color":"#b0b0b000"},
{"offset":0.6783,"color":"#b0b0b000"},{"offset":0.6833,"color":"#b0b0b0"},{"offset":0.6883,"color":"#b0b0b000"},
{"offset":0.7117,"color":"#b0b0b000"},{"offset":0.7167,"color":"#b0b0b0"},{"offset":0.7217,"color":"#b0b0b000"},
{"offset":0.745,"color":"#b0b0b000"},{"offset":0.75,"color":"#b0b0b0"},{"offset":0.755,"color":"#b0b0b000"},
{"offset":0.7783,"color":"#b0b0b000"},{"offset":0.7833,"color":"#b0b0b0"},{"offset":0.7883,"color":"#b0b0b000"},
{"offset":0.8117,"color":"#b0b0b000"},{"offset":0.8167,"color":"#b0b0b0"},{"offset":0.8217,"color":"#b0b0b000"},
{"offset":0.845,"color":"#b0b0b000"},{"offset":0.85,"color":"#b0b0b0"},{"offset":0.855,"color":"#b0b0b000"},
{"offset":0.8783,"color":"#b0b0b000"},{"offset":0.8833,"color":"#b0b0b0"},{"offset":0.8883,"color":"#b0b0b000"},
{"offset":0.9117,"color":"#b0b0b000"},{"offset":0.9167,"color":"#b0b0b0"},{"offset":0.9217,"color":"#b0b0b000"},
{"offset":0.945,"color":"#b0b0b000"},{"offset":0.95,"color":"#b0b0b0"},{"offset":0.955,"color":"#b0b0b000"},
{"offset":0.9783,"color":"#b0b0b000"},{"offset":0.9833,"color":"#b0b0b0"},{"offset":0.9883,"color":"#b0b0b000"}]}},
   "encoding": {
    "x": {"field": "x", "type": "quantitative", "title": "Lag", "scale": {"domain": [0, 30], "range": [10, 231], "nice": false, "zero": false}, "axis": {"values": [0, 5, 10, 15, 20, 25, 30]}},
    "y": {"field": "lo", "type": "quantitative", "title": "Effect", "scale": {"domain": [0.9, 1.2], "range": [104, 15], "nice": false, "zero": false}, "axis": {"values": [0.9, 1, 1.1, 1.2], "format": ".1f"}},
    "y2": {"field": "hi"}}},
  {"data": {"values": [{"ref": 1}]}, "mark": {"type": "rule", "color": "#000000", "strokeWidth": 1.2},
   "encoding": {"y": {"field": "ref", "type": "quantitative", "title": "Effect", "scale": {"domain": [0.9, 1.2], "range": [104, 15], "nice": false, "zero": false}, "axis": {"values": [0.9, 1, 1.1, 1.2], "format": ".1f"}}}},
  {"mark": {"type": "line", "color": "#e0102f", "strokeWidth": 1.6},
   "encoding": {
    "x": {"field": "x", "type": "quantitative", "title": "Lag", "scale": {"domain": [0, 30], "range": [10, 231], "nice": false, "zero": false}, "axis": {"values": [0, 5, 10, 15, 20, 25, 30]}},
    "y": {"field": "fit", "type": "quantitative", "title": "Effect", "scale": {"domain": [0.9, 1.2], "range": [104, 15], "nice": false, "zero": false}, "axis": {"values": [0.9, 1, 1.1, 1.2], "format": ".1f"}}}}
 ]}
],
"config": {
 "view": {"stroke": null},
 "font": "Liberation Sans",
 "title": {"fontSize": 14, "fontWeight": "normal", "color": "#000000", "offset": 5, "baseline": "alphabetic", "font": "Liberation Sans"},
 "axis": {"grid": false, "domainColor": "#000000", "domainWidth": 1, "tickColor": "#000000", "tickWidth": 1, "tickSize": 6.5, "labelColor": "#1a1a1a", "labelFontSize": 9, "labelFont": "Liberation Sans", "titleFont": "Liberation Sans", "titleFontSize": 12, "titleFontWeight": "normal", "titleColor": "#000000", "labelOverlap": false, "labelFlush": false, "labelBound": false},
 "axisX": {"labelPadding": 6.5, "titlePadding": 6},
 "axisY": {"labelAngle": -90, "labelAlign": "center", "labelBaseline": "bottom", "labelPadding": 3, "titlePadding": 9}
}
}
